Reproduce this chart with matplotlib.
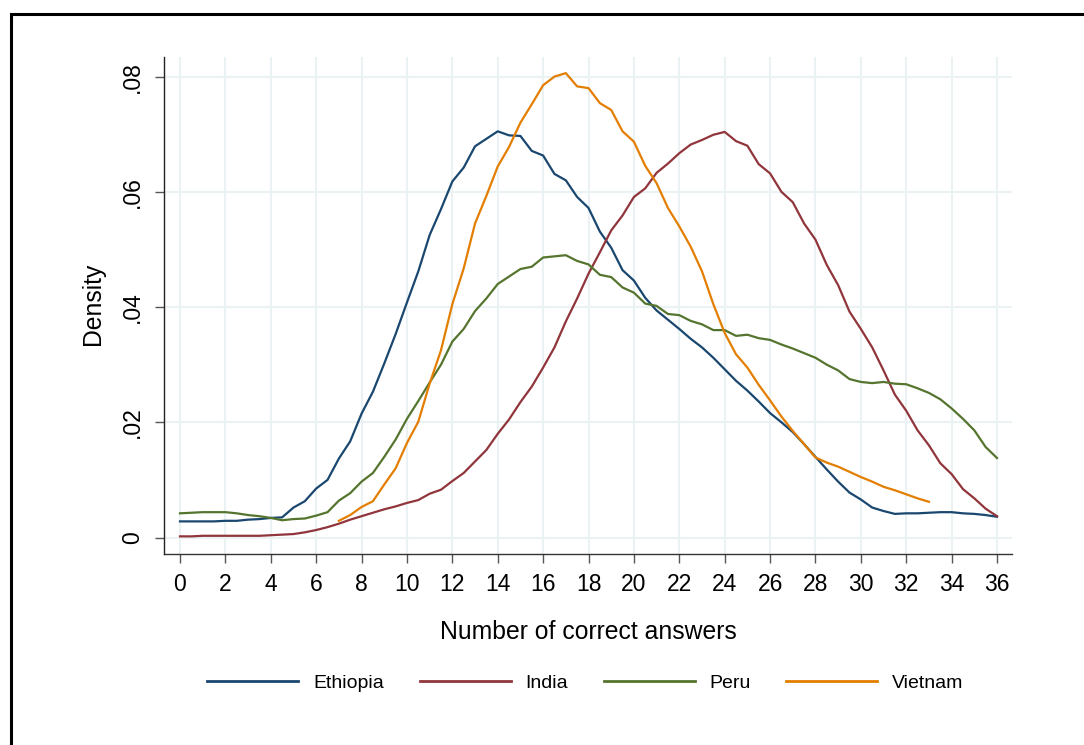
import matplotlib
matplotlib.use('Agg')
import matplotlib.pyplot as plt
import matplotlib.patches as patches
import numpy as np

plt.rcParams['font.family'] = ['Liberation Sans', 'DejaVu Sans']

# kernel density estimates of the test score, by country
countries = ['Ethiopia', 'India', 'Peru', 'Vietnam']
colors = ['#1a476f', '#90353b', '#55752f', '#e37e00']

score_full = np.arange(0, 36.5, 0.5)
score_vietnam = np.arange(7, 33.5, 0.5)

ethiopia = [0.0028, 0.0028, 0.0028, 0.0028, 0.0029, 0.0029, 0.0031, 0.0032, 0.0034, 0.0035,
            0.0052, 0.0063, 0.0085, 0.0100, 0.0137, 0.0167, 0.0215, 0.0253, 0.0302, 0.0353,
            0.0408, 0.0462, 0.0525, 0.0570, 0.0618, 0.0642, 0.0679, 0.0692, 0.0705, 0.0698,
            0.0697, 0.0671, 0.0663, 0.0631, 0.0620, 0.0591, 0.0572, 0.0531, 0.0503, 0.0464,
            0.0446, 0.0416, 0.0394, 0.0378, 0.0362, 0.0345, 0.0330, 0.0312, 0.0292, 0.0272,
            0.0255, 0.0236, 0.0216, 0.0200, 0.0183, 0.0162, 0.0140, 0.0118, 0.0097, 0.0078,
            0.0066, 0.0052, 0.0046, 0.0041, 0.0042, 0.0042, 0.0043, 0.0044, 0.0044, 0.0042,
            0.0041, 0.0039, 0.0036]

india = [0.0002, 0.0002, 0.0003, 0.0003, 0.0003, 0.0003, 0.0003, 0.0003, 0.0004, 0.0005,
         0.0006, 0.0009, 0.0013, 0.0018, 0.0024, 0.0031, 0.0037, 0.0043, 0.0049, 0.0054,
         0.0060, 0.0065, 0.0076, 0.0083, 0.0098, 0.0112, 0.0132, 0.0152, 0.0180, 0.0205,
         0.0235, 0.0262, 0.0295, 0.0330, 0.0375, 0.0415, 0.0458, 0.0495, 0.0533, 0.0559,
         0.0591, 0.0606, 0.0633, 0.0649, 0.0667, 0.0682, 0.0690, 0.0699, 0.0704, 0.0688,
         0.0680, 0.0648, 0.0632, 0.0600, 0.0582, 0.0545, 0.0517, 0.0473, 0.0438, 0.0392,
         0.0362, 0.0330, 0.0290, 0.0248, 0.0220, 0.0186, 0.0160, 0.0129, 0.0110, 0.0084,
         0.0068, 0.0050, 0.0037]

peru = [0.0042, 0.0043, 0.0044, 0.0044, 0.0044, 0.0042, 0.0039, 0.0037, 0.0034, 0.0030,
        0.0032, 0.0033, 0.0038, 0.0044, 0.0064, 0.0077, 0.0097, 0.0112, 0.0140, 0.0170,
        0.0206, 0.0237, 0.0269, 0.0300, 0.0340, 0.0362, 0.0393, 0.0415, 0.0440, 0.0453,
        0.0466, 0.0470, 0.0486, 0.0488, 0.0490, 0.0480, 0.0474, 0.0456, 0.0452, 0.0434,
        0.0425, 0.0406, 0.0402, 0.0388, 0.0386, 0.0376, 0.0370, 0.0360, 0.0360, 0.0350,
        0.0352, 0.0346, 0.0343, 0.0335, 0.0328, 0.0320, 0.0312, 0.0300, 0.0290, 0.0275,
        0.0270, 0.0268, 0.0270, 0.0267, 0.0266, 0.0259, 0.0251, 0.0240, 0.0224, 0.0206,
        0.0186, 0.0157, 0.0138]

vietnam = [0.0029, 0.0039, 0.0053, 0.0063, 0.0092, 0.0120, 0.0164, 0.0201, 0.0267, 0.0325,
           0.0405, 0.0467, 0.0545, 0.0593, 0.0644, 0.0678, 0.0720, 0.0752, 0.0785, 0.0800,
           0.0806, 0.0783, 0.0780, 0.0754, 0.0742, 0.0705, 0.0687, 0.0645, 0.0615, 0.0572,
           0.0540, 0.0505, 0.0462, 0.0405, 0.0355, 0.0318, 0.0295, 0.0265, 0.0238, 0.0210,
           0.0185, 0.0162, 0.0139, 0.0130, 0.0123, 0.0114, 0.0105, 0.0097, 0.0088, 0.0082,
           0.0075, 0.0068, 0.0062]

x_ticks = np.arange(0, 37, 2)
y_ticks = [0, 0.02, 0.04, 0.06, 0.08]
y_ticklabels = ['0', '.02', '.04', '.06', '.08']

W, H = 1084, 745
fig = plt.figure(figsize=(W / 100, H / 100), dpi=100)
fig.patch.set_facecolor('white')

# outer frame (only the top and left edges fall inside the image)
frame = patches.Rectangle((11 / W, -0.5), 2.0, 0.5 + 1 - 14 / H, transform=fig.transFigure,
                          fill=False, edgecolor='black', linewidth=2.2, clip_on=False)
fig.add_artist(frame)

ax = fig.add_axes([164 / W, 1 - 554 / H, (1012 - 164) / W, (554 - 57) / H])

series = [(score_full, ethiopia), (score_full, india), (score_full, peru), (score_vietnam, vietnam)]
for (xs, ys), name, c in zip(series, countries, colors):
    ax.plot(xs, ys, color=c, linewidth=1.6, label=name, zorder=3)

ax.set_xlim(-0.705, 36.66)
ax.set_ylim(-0.00286, 0.0834)
ax.set_xticks(x_ticks)
ax.set_yticks(y_ticks)
ax.set_yticklabels(y_ticklabels, rotation=90, va='center')
ax.grid(True, color='#eaf2f3', linewidth=1.5, zorder=0)
ax.set_axisbelow(True)

for side in ['top', 'right']:
    ax.spines[side].set_visible(False)
ax.spines['left'].set_color('#222222')
ax.spines['bottom'].set_color('#333333')
ax.spines['left'].set_linewidth(1.0)
ax.spines['bottom'].set_linewidth(1.0)

ax.tick_params(axis='both', direction='out', length=6.5, width=1.0, color='#555555',
               labelsize=16.5, labelcolor='black')
ax.tick_params(axis='x', pad=7.5)
ax.tick_params(axis='y', pad=8)

fig.text(588 / W, 1 - 632 / H, 'Number of correct answers', ha='center', va='center', fontsize=17.8)
fig.text(93 / W, 1 - 304 / H, 'Density', ha='center', va='center', rotation=90, fontsize=17.8)

leg = ax.legend(loc='center', bbox_to_anchor=(585.5 / W, 1 - 683 / H),
                bbox_transform=fig.transFigure, ncol=4, frameon=False, fontsize=14,
                handlelength=4.68, handletextpad=0.77, columnspacing=1.82, borderpad=0.2)
for line in leg.get_lines():
    line.set_linewidth(2.0)

plt.savefig('out.png', dpi=100)
plt.close()
